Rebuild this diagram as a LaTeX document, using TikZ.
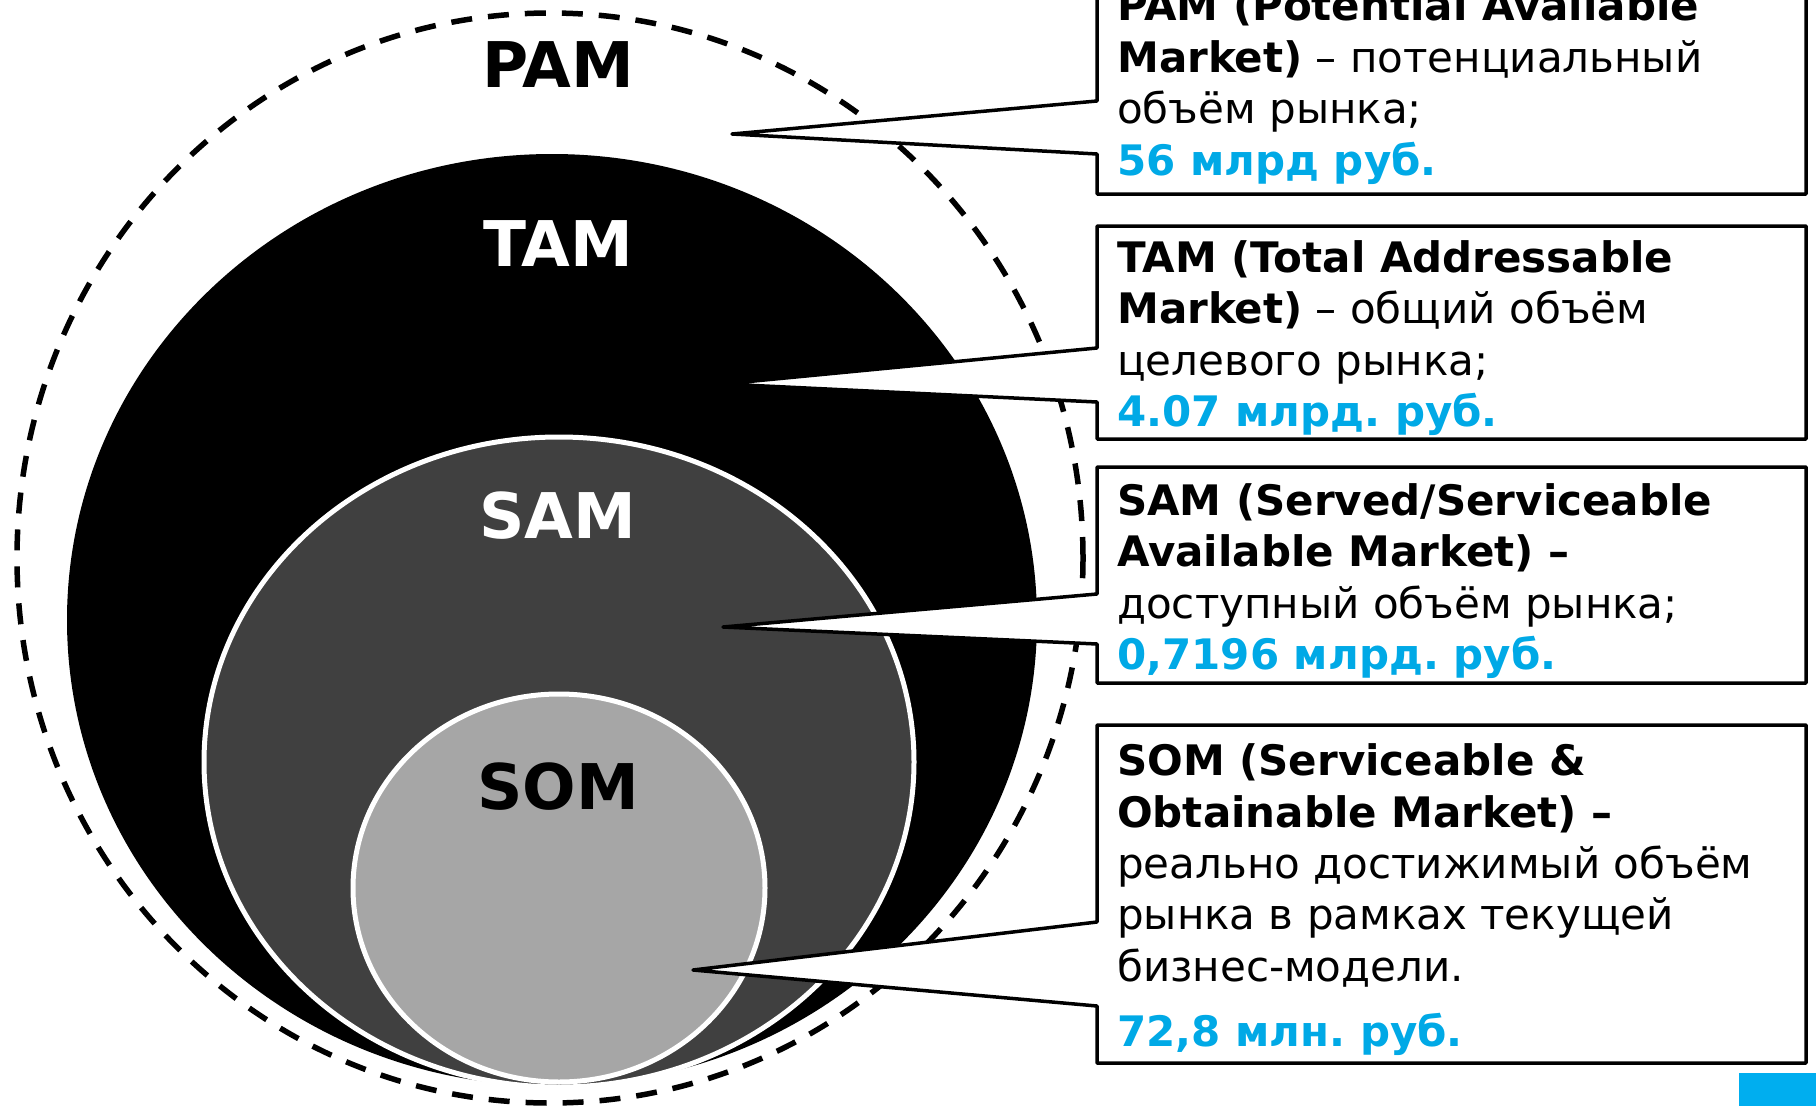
\documentclass[tikz,border=0pt]{standalone}
\usepackage{fontspec}
\setmainfont{DejaVu Sans}
\definecolor{blu}{HTML}{00A9E6}
\definecolor{bluebox}{HTML}{00AEEF}
\definecolor{samgray}{HTML}{404040}
\definecolor{somgray}{HTML}{A6A6A6}
\frenchspacing
\begin{document}
\begin{tikzpicture}[x=1pt,y=-1pt,
  callout/.style={fill=white,draw=black,line width=3.5pt,line join=round},
  boxtext/.style={anchor=base west,inner sep=0pt,font=\fontsize{42}{50}\selectfont},
  valtext/.style={boxtext,text=blu,font=\fontsize{42}{50}\selectfont\bfseries},
  biglabel/.style={anchor=base,inner sep=0pt,font=\fontsize{63}{70}\selectfont\bfseries},
  ring/.style={draw=white,line width=5pt}]
\useasboundingbox (0,0) rectangle (1816,1106);
\clip (0,0) rectangle (1816,1106);
% circles
\coordinate (cpam) at (550,558);
\coordinate (ctam) at (552,620);
\coordinate (csam) at (559,762);
\coordinate (csom) at (559,888);
\draw[line width=5.5pt,dash pattern=on 21pt off 16pt] (cpam) ellipse [x radius=533pt, y radius=545pt];
\fill[black] (ctam) ellipse [x radius=485pt, y radius=466pt];
\draw[ring,fill=samgray] (csam) ellipse [x radius=355pt, y radius=325pt];
\draw[ring,fill=somgray] (csom) ellipse [x radius=206pt, y radius=194pt];
% labels
\node[biglabel] (pam) at (558,87) {PAM};
\node[biglabel,text=white] (tam) at (558,266) {TAM};
\node[biglabel,text=white] (sam) at (558,538) {SAM};
\node[biglabel] (som) at (558,809) {SOM};
% callout tips
\coordinate (t1) at (732,134);
\coordinate (t2) at (723,384);
\coordinate (t3) at (723,627);
\coordinate (t4) at (693,970);
% callouts
\draw[callout] (1097,-40) -- (1806,-40) -- (1806,194) -- (1097,194) -- (1097,154) -- (t1) -- (1097,101) -- cycle;
\draw[callout] (1097,226) -- (1806,226) -- (1806,439) -- (1097,439) -- (1097,402) -- (t2) -- (1097,348) -- cycle;
\draw[callout] (1097,467) -- (1806,467) -- (1806,683) -- (1097,683) -- (1097,644) -- (t3) -- (1097,594) -- cycle;
\draw[callout] (1097,725) -- (1806,725) -- (1806,1063) -- (1097,1063) -- (1097,1006) -- (t4) -- (1097,922) -- cycle;
% box 1
\node[boxtext] (p1) at (1117,20.5) {\textbf{PAM (Potential Available}};
\node[boxtext] (p2) at (1117,72) {\textbf{Market)} – потенциальный};
\node[boxtext] (p3) at (1117,123.5) {объём рынка;};
\node[valtext] (p4) at (1117,175) {56 млрд руб.};
% box 2
\node[boxtext] (q1) at (1117,272) {\textbf{TAM (Total Addressable}};
\node[boxtext] (q2) at (1117,323.5) {\textbf{Market)} – общий объём};
\node[boxtext] (q3) at (1117,375) {целевого рынка;};
\node[valtext] (q4) at (1117,426.5) {4.07 млрд. руб.};
% box 3
\node[boxtext] (r1) at (1117,515) {\textbf{SAM (Served/Serviceable}};
\node[boxtext] (r2) at (1117,566.5) {\textbf{Available Market) –}};
\node[boxtext] (r3) at (1117,618) {доступный объём рынка;};
\node[valtext] (r4) at (1117,669.5) {0,7196 млрд. руб.};
% box 4
\node[boxtext] (s1) at (1117,775) {\textbf{SOM (Serviceable \&}};
\node[boxtext] (s2) at (1117,827) {\textbf{Obtainable Market) –}};
\node[boxtext] (s3) at (1117,878) {реально достижимый объём};
\node[boxtext] (s4) at (1117,929) {рынка в рамках текущей};
\node[boxtext] (s5) at (1117,981) {бизнес-модели.};
\node[valtext] (s6) at (1117,1046) {72,8 млн. руб.};
% slide marker
\fill[bluebox] (1739,1073) rectangle (1816,1106);
\end{tikzpicture}
\end{document}
